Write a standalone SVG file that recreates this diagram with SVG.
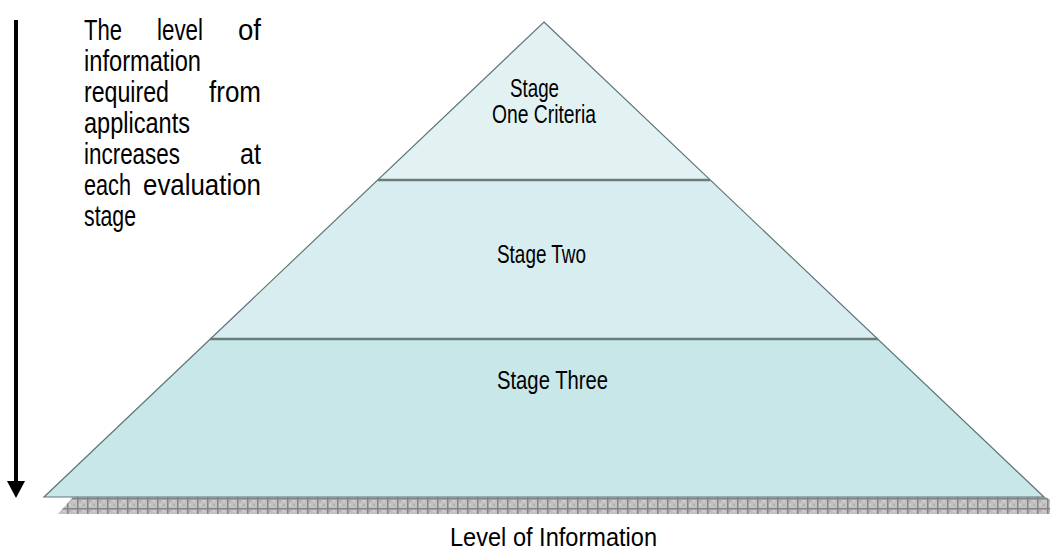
<svg xmlns="http://www.w3.org/2000/svg" width="1050" height="553" viewBox="0 0 1050 553">
<style>
  .t{font-family:"Liberation Sans",Arial,sans-serif;fill:#000}
  .side{font-size:29px}
  .lbl{font-size:25px}
  .edge{fill:none;stroke:#5f7678;stroke-width:1.2}
  .sep{stroke:#687c7e;stroke-width:2.5}
</style>
<defs>
  <pattern id="grid" patternUnits="userSpaceOnUse" x="7" y="498" width="10" height="10">
    <rect width="10" height="10" fill="#c2c2c2"/>
    <rect x="2" y="2" width="2" height="2" fill="#b2b2b2"/>
    <rect x="6" y="6" width="2" height="2" fill="#b2b2b2"/>
    <rect x="6" y="2" width="2" height="2" fill="#cecece"/>
    <rect x="2" y="6" width="2" height="2" fill="#cecece"/>
    <rect x="0" y="0" width="10" height="1.5" fill="#848484"/>
    <rect x="0" y="0" width="1.5" height="10" fill="#848484"/>
  </pattern>
</defs>
<rect width="1050" height="553" fill="#fff"/>

<g id="shadow">
  <polygon points="73,497 1046,497 1050,500 1050,514 58,514" fill="url(#grid)"/>
</g>

<g id="stage-three">
  <polygon points="210,339 878,339 1044,497 44,497" fill="#c8e7e9"/>
  <text class="t lbl" x="497" y="389" textLength="111" lengthAdjust="spacingAndGlyphs">Stage Three</text>
</g>
<g id="stage-two">
  <polygon points="378,180 710,180 878,339 210,339" fill="#d8edef"/>
  <text class="t lbl" x="497" y="263" textLength="89" lengthAdjust="spacingAndGlyphs">Stage Two</text>
</g>
<g id="stage-one">
  <polygon points="544,22 710,180 378,180" fill="#e2f2f3"/>
  <text class="t lbl" x="510" y="97" textLength="49" lengthAdjust="spacingAndGlyphs">Stage</text>
  <text class="t lbl" x="492" y="123" textLength="104" lengthAdjust="spacingAndGlyphs">One Criteria</text>
</g>

<g id="outline">
  <polygon class="edge" points="544,22 1044,497 44,497"/>
  <line class="sep" x1="378" y1="180" x2="710" y2="180"/>
  <line class="sep" x1="210" y1="339" x2="878" y2="339"/>
</g>

<g id="connectors">
  <line x1="16" y1="20" x2="16" y2="483" stroke="#000" stroke-width="4"/>
  <polygon points="7,481 25,481 16,498" fill="#000"/>
</g>

<g id="side-text" class="t side">
  <text x="84" y="40" textLength="38" lengthAdjust="spacingAndGlyphs">The</text>
  <text x="157" y="40" textLength="46" lengthAdjust="spacingAndGlyphs">level</text>
  <text x="238" y="40" textLength="23" lengthAdjust="spacingAndGlyphs">of</text>
  <text x="84" y="71" textLength="117" lengthAdjust="spacingAndGlyphs">information</text>
  <text x="84" y="102" textLength="85" lengthAdjust="spacingAndGlyphs">required</text>
  <text x="209" y="102" textLength="52" lengthAdjust="spacingAndGlyphs">from</text>
  <text x="84" y="133" textLength="106" lengthAdjust="spacingAndGlyphs">applicants</text>
  <text x="84" y="164" textLength="96" lengthAdjust="spacingAndGlyphs">increases</text>
  <text x="240" y="164" textLength="21" lengthAdjust="spacingAndGlyphs">at</text>
  <text x="84" y="195" textLength="47" lengthAdjust="spacingAndGlyphs">each</text>
  <text x="143" y="195" textLength="118" lengthAdjust="spacingAndGlyphs">evaluation</text>
  <text x="84" y="226" textLength="52" lengthAdjust="spacingAndGlyphs">stage</text>
</g>

<g id="axis-label">
  <text class="t" x="450" y="546" font-size="26" textLength="207" lengthAdjust="spacingAndGlyphs">Level of Information</text>
</g>
</svg>
